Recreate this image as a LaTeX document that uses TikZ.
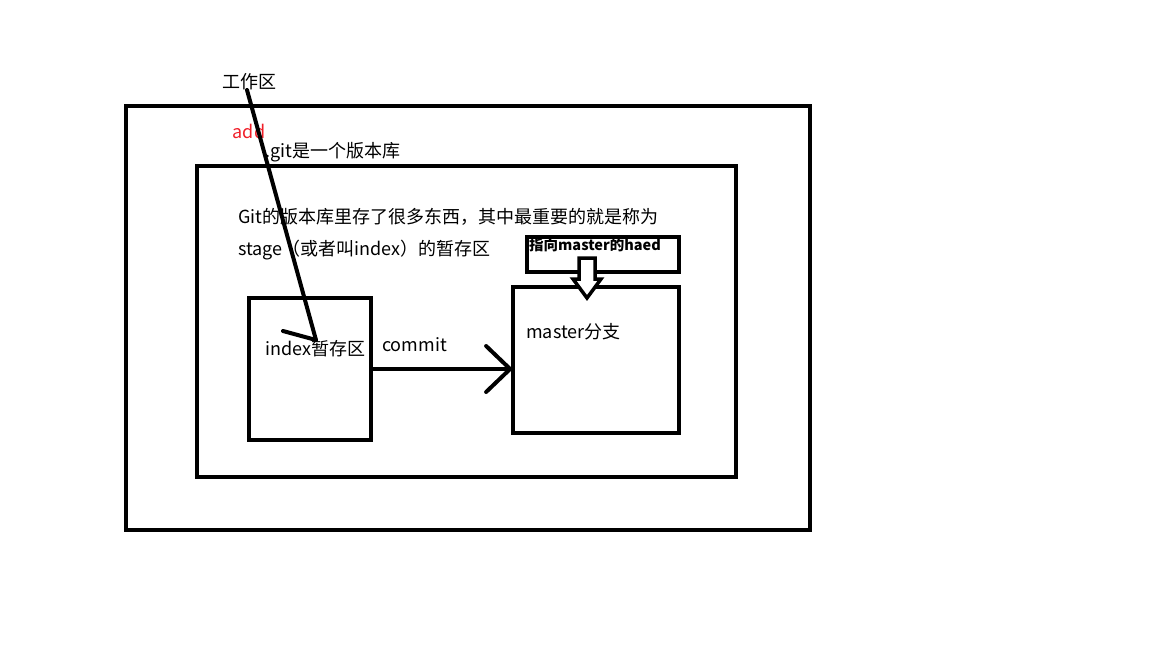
\documentclass[tikz,border=0pt]{standalone}
\usepackage{fontspec}
\setmainfont{Noto Sans CJK SC}
\usetikzlibrary{arrows.meta}
\definecolor{addred}{RGB}{240,30,40}

\begin{document}
\begin{tikzpicture}[x=1pt,y=-1pt,frame/.style={draw,line width=4pt,inner sep=0pt,outer sep=0pt},txt/.style={font=\fontsize{18}{22}\selectfont,inner sep=0pt,anchor=west},stroke/.style={line width=4pt,line cap=round}]
\useasboundingbox (0,0) rectangle (1152,648);
\node[frame,minimum width=684pt,minimum height=424pt] (workspace) at (468,318) {};
\node[frame,minimum width=539pt,minimum height=311pt] (repo) at (466.5,321.5) {};
\node[frame,minimum width=122pt,minimum height=142pt] (index) at (310,369) {};
\node[frame,minimum width=166pt,minimum height=146pt] (master) at (596,360) {};
\node[frame,minimum width=152pt,minimum height=35pt] (head) at (603,254.5) {};
\node[txt,anchor=center] (worklabel) at (249,82) {工作区};
\node[txt,text=addred,anchor=center] (addlabel) at (249,131) {add};
\node[txt] (repolabel) at (265,152) {.git是一个版本库};
\node[txt] (note1) at (238,217) {Git的版本库里存了很多东西，其中最重要的就是称为};
\node[txt] (note2) at (238,250) {stage（或者叫index）的暂存区};
\node[txt] (indexlabel) at (265,349) {index暂存区};
\node[txt] (commitlabel) at (382,345) {commit};
\node[txt] (masterlabel) at (526,332) {master分支};
\node[txt,font=\fontsize{14.5}{17}\selectfont\bfseries] (headlabel) at (529,245) {指向master的haed};
\coordinate (addfrom) at (247,90);
\coordinate (addtip) at (316,340);
\coordinate (addbarb) at (283,331);
\draw[stroke] (addfrom) -- (addtip);
\draw[stroke] (addbarb) -- (addtip);
\draw[stroke,-{Straight Barb[length=24pt,width=46pt,line cap=round]}] (index.east) -- (index.east -| master.west);
% hollow arrow from head to master
\draw[line width=3.5pt,fill=white] (579,258) -- (579,279) -- (573,279) -- (587,298) -- (601,279) -- (595,279) -- (595,258) -- cycle;
\end{tikzpicture}
\end{document}
